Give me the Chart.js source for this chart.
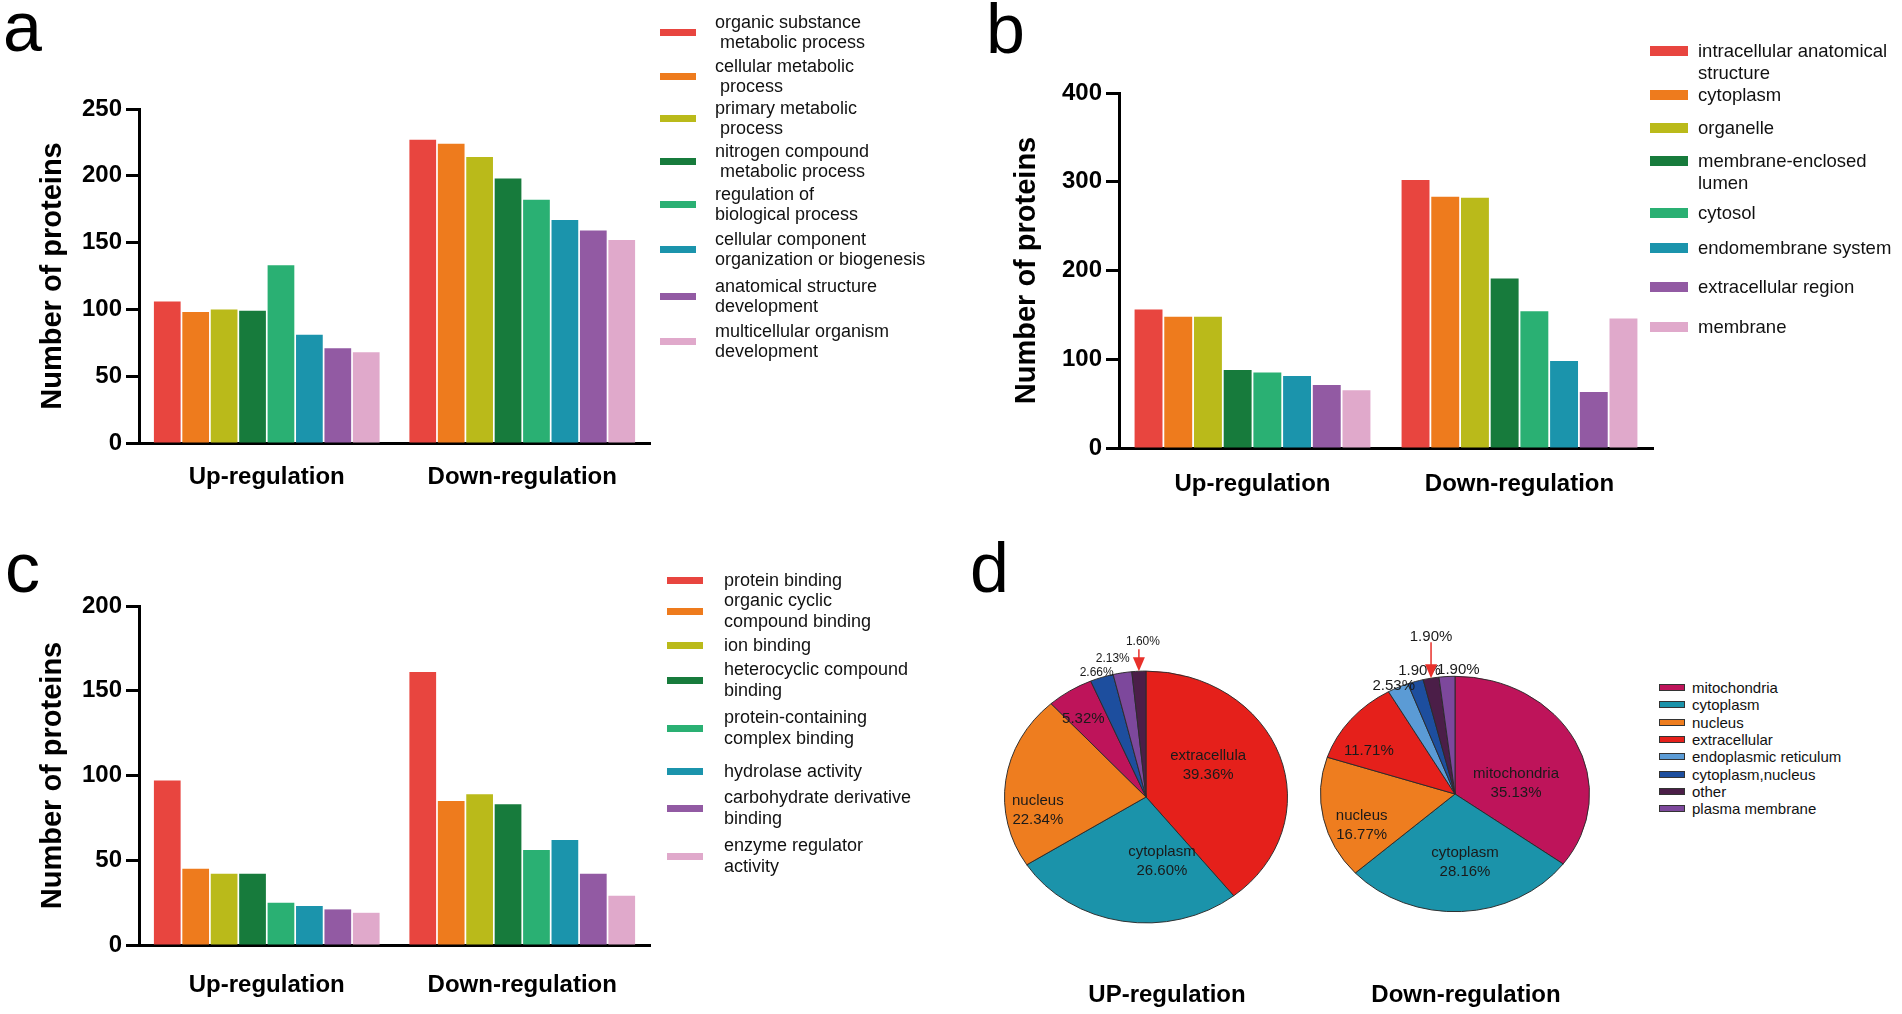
<!DOCTYPE html>
<html>
<head>
<meta charset="utf-8">
<script src="https://cdn.jsdelivr.net/npm/chart.js@4.4.0/dist/chart.umd.min.js"></script>
<style>
  body { margin: 0; background: #fff; width: 1902px; height: 1014px; position: relative; overflow: hidden;
         font-family: Arial, "Liberation Sans", sans-serif; color: #111; }
  canvas { position: absolute; }
  .letter { position: absolute; font-size: 70px; line-height: 70px; color: #000; }
  .ptitle { position: absolute; width: 300px; text-align: center; font-size: 24px; font-weight: bold; color: #000; }
</style>
</head>
<body>
<div class="letter" style="left:3px;top:-8px">a</div>
<div class="letter" style="left:986px;top:-6px">b</div>
<div class="letter" style="left:5px;top:533px">c</div>
<div class="letter" style="left:970px;top:533px">d</div>

<canvas id="bp" width="670" height="450" style="left:0;top:80px"></canvas>
<canvas id="cc" width="700" height="468" style="left:970px;top:60px"></canvas>
<canvas id="mf" width="670" height="444" style="left:0;top:570px"></canvas>
<canvas id="pieUp" width="320" height="416" style="left:985px;top:610px"></canvas>
<canvas id="pieDown" width="330" height="400" style="left:1300px;top:600px"></canvas>

<div class="ptitle" style="left:1017px;top:980px">UP-regulation</div>
<div class="ptitle" style="left:1316px;top:980px">Down-regulation</div>

<script>
// groups on the x axis
var groups = ["Up-regulation", "Down-regulation"];

// a: biological process
var bpTerms = ["organic substance\n metabolic process", "cellular metabolic\n process", "primary metabolic\n process",
  "nitrogen compound\n metabolic process", "regulation of\nbiological process", "cellular component\norganization or biogenesis",
  "anatomical structure\ndevelopment", "multicellular organism\ndevelopment"];
var bpUp = [106, 98, 100, 99, 133, 81, 71, 68];
var bpDown = [227, 224, 214, 198, 182, 167, 159, 152];

// b: cellular component
var ccTerms = ["intracellular anatomical\nstructure", "cytoplasm", "organelle", "membrane-enclosed\nlumen",
  "cytosol", "endomembrane system", "extracellular region", "membrane"];
var ccUp = [156, 148, 148, 88, 85, 81, 71, 65];
var ccDown = [302, 283, 282, 191, 154, 98, 63, 146];

// c: molecular function
var mfTerms = ["protein binding", "organic cyclic\ncompound binding", "ion binding", "heterocyclic compound\nbinding",
  "protein-containing\ncomplex binding", "hydrolase activity", "carbohydrate derivative\nbinding", "enzyme regulator\nactivity"];
var mfUp = [97, 45, 42, 42, 25, 23, 21, 19];
var mfDown = [161, 85, 89, 83, 56, 62, 42, 29];

// y axis ranges
var bpMax = 250, bpStep = 50;
var ccMax = 400, ccStep = 100;
var mfMax = 200, mfStep = 50;

// d: subcellular location (legend order)
var locations = ["mitochondria", "cytoplasm", "nucleus", "extracellular", "endoplasmic reticulum",
  "cytoplasm,nucleus", "other", "plasma membrane"];
var upSlices = ["extracellular", "cytoplasm", "nucleus", "mitochondria", "cytoplasm,nucleus", "plasma membrane", "other"];
var upShare = [39.36, 26.60, 22.34, 5.32, 2.66, 2.13, 1.60];
var upNames = ["extracellula", "cytoplasm", "nucleus", "", "", "", ""];
var downSlices = ["mitochondria", "cytoplasm", "nucleus", "extracellular", "endoplasmic reticulum", "cytoplasm,nucleus", "other", "plasma membrane"];
var downShare = [35.13, 28.16, 16.77, 11.71, 2.53, 1.90, 1.90, 1.90];
var downNames = ["mitochondria", "cytoplasm", "nucleus", "", "", "", "", ""];

// colours
var barColors = ["#E8453F", "#EE7B1D", "#BABA1A", "#177B3C", "#2AB073", "#1B94AC", "#925AA3", "#E0A9CB"];
var locColors = ["#BE145A", "#1B93AA", "#EE7D1F", "#E5201B", "#5B9BD5", "#1D4E9E", "#4B1E48", "#7D489C"];

// hand placement of the pie labels, as offsets (px) from the slice's mid-angle point
var upNudge = [[-18, -7], [30, -10], [-24, 23], [-4, 4], [-2, 4], [-8, -5], [0, 0]];
var downNudge = [[-11, 21], [6, -2], [8, 13], [-6, 14], [0, 6], [7, -2], [0, 0], [12, 2]];

var FONT = 'Arial, "Liberation Sans", sans-serif';
Chart.defaults.font.family = FONT;
Chart.defaults.color = '#000';

function barChart(id, terms, up, down, yMax, yStep, pad, axisW, titlePad, labelPad) {
  var datasets = terms.map(function (t, i) {
    return { label: t, data: [up[i], down[i]], backgroundColor: barColors[i], borderWidth: 0,
             categoryPercentage: 0.89, barPercentage: 0.94 };
  });
  return new Chart(document.getElementById(id), {
    type: 'bar',
    data: { labels: groups, datasets: datasets },
    options: {
      responsive: false, animation: false, devicePixelRatio: 1,
      layout: { padding: pad },
      plugins: { legend: { display: false }, tooltip: { enabled: false } },
      scales: {
        x: {
          grid: { display: false, drawTicks: false },
          border: { display: true, color: '#000', width: 3 },
          ticks: { color: '#000', font: { size: 24, weight: 'bold' }, padding: labelPad, maxRotation: 0 },
          afterFit: function (s) { s.height = 60; }
        },
        y: {
          min: 0, max: yMax,
          ticks: { stepSize: yStep, color: '#000', font: { size: 24, weight: 'bold' }, padding: 4 },
          grid: { drawOnChartArea: false, drawTicks: true, tickLength: 13, tickWidth: 3, tickColor: '#000' },
          border: { display: true, color: '#000', width: 3 },
          title: { display: true, text: 'Number of proteins', color: '#000',
                   font: { size: 29, weight: 'bold' }, padding: { top: titlePad, bottom: 0 } },
          afterFit: function (s) { s.width = axisW; }
        }
      }
    }
  });
}

barChart('bp', bpTerms, bpUp, bpDown, bpMax, bpStep, { top: 29, right: 20, bottom: 27, left: 0 }, 139, 36, 20);
barChart('cc', ccTerms, ccUp, ccDown, ccMax, ccStep, { top: 33, right: 17, bottom: 20, left: 0 }, 149, 40, 22);
barChart('mf', mfTerms, mfUp, mfDown, mfMax, mfStep, { top: 36, right: 20, bottom: 9, left: 0 }, 139, 36, 26);

// the pies in the figure are slightly flattened; squash the arcs, keep the text upright
var pieLabels = {
  id: 'pieLabels',
  beforeDatasetsDraw: function (chart, args, o) {
    var a = chart.getDatasetMeta(0).data[0];
    var ctx = chart.ctx;
    ctx.save();
    ctx.translate(0, a.y * (1 - o.squash));
    ctx.scale(1, o.squash);
  },
  afterDatasetsDraw: function (chart, args, o) {
    var ctx = chart.ctx, meta = chart.getDatasetMeta(0), vals = chart.data.datasets[0].data;
    ctx.restore();
    ctx.save();
    ctx.textAlign = 'center';
    ctx.textBaseline = 'middle';
    meta.data.forEach(function (arc, i) {
      var p = arc.getProps(['x', 'y', 'startAngle', 'endAngle', 'outerRadius'], true);
      var mid = (p.startAngle + p.endAngle) / 2, r = p.outerRadius, k = o.squash;
      var cos = Math.cos(mid), sin = Math.sin(mid);
      var txt = vals[i].toFixed(2) + '%';
      var name = o.names[i], nx = o.nudge[i][0], ny = o.nudge[i][1];
      ctx.fillStyle = '#1a1a1a';
      if (chart.data.labels[i] === 'other') {
        var ax = p.x + cos * r, ay = p.y + sin * r * k;
        ctx.strokeStyle = '#E8302A';
        ctx.fillStyle = '#E8302A';
        ctx.lineWidth = 1.5;
        ctx.beginPath(); ctx.moveTo(ax, ay - o.arrow); ctx.lineTo(ax, ay - 12); ctx.stroke();
        ctx.beginPath(); ctx.moveTo(ax - 6, ay - 14); ctx.lineTo(ax + 6, ay - 14); ctx.lineTo(ax, ay); ctx.closePath(); ctx.fill();
        ctx.fillStyle = '#1a1a1a';
        ctx.font = o.outerFont + 'px ' + FONT;
        ctx.fillText(txt, ax + o.arrowTextDx, ay - o.arrow - o.gap);
      } else if (vals[i] >= 5) {
        var f = vals[i] >= 20 ? 0.6 : 0.77;
        var lx = p.x + cos * r * f + nx, ly = p.y + sin * r * f * k + ny;
        ctx.font = '15px ' + FONT;
        if (name) {
          ctx.fillText(name, lx, ly - 9.5);
          ctx.fillText(txt, lx, ly + 9.5);
        } else {
          ctx.fillText(txt, lx, ly);
        }
      } else {
        var d = r + 10;
        ctx.font = o.outerFont + 'px ' + FONT;
        ctx.fillText(txt, p.x + cos * d + nx, p.y + sin * d * k + ny);
      }
    });
    ctx.restore();
  }
};

function pieChart(id, slices, share, names, nudge, pad, squash, outerFont, arrow, gap, arrowTextDx) {
  return new Chart(document.getElementById(id), {
    type: 'pie',
    data: {
      labels: slices,
      datasets: [{
        data: share,
        backgroundColor: slices.map(function (s) { return locColors[locations.indexOf(s)]; }),
        borderColor: '#2a2a2a', borderWidth: 1
      }]
    },
    options: {
      responsive: false, animation: false, devicePixelRatio: 1,
      layout: { padding: pad },
      plugins: {
        legend: { display: false }, tooltip: { enabled: false },
        pieLabels: { names: names, nudge: nudge, squash: squash, outerFont: outerFont,
                     arrow: arrow, gap: gap, arrowTextDx: arrowTextDx }
      }
    },
    plugins: [pieLabels]
  });
}

pieChart('pieUp', upSlices, upShare, upNames, upNudge, { top: 45, bottom: 87, left: 19, right: 17 }, 0.89, 12, 22, 8, 4);
pieChart('pieDown', downSlices, downShare, downNames, downNudge, { top: 59, bottom: 71, left: 20, right: 40 }, 0.875, 15, 36, 5, 0);

// legends
function legend(terms, colors, centers, swLeft, swW, swH, txLeft, size, lh, firstLine, border) {
  terms.forEach(function (t, i) {
    var lines = t.split('\n');
    var sw = document.createElement('div');
    sw.style.cssText = 'position:absolute;box-sizing:border-box;left:' + swLeft + 'px;top:' + (centers[i] - swH / 2) +
      'px;width:' + swW + 'px;height:' + swH + 'px;background:' + colors[i] + (border ? ';border:1px solid #333' : '');
    document.body.appendChild(sw);
    var tx = document.createElement('div');
    var top = firstLine ? centers[i] - lh / 2 : centers[i] - lines.length * lh / 2;
    tx.style.cssText = 'position:absolute;white-space:pre;left:' + txLeft + 'px;top:' + top +
      'px;font-size:' + size + 'px;line-height:' + lh + 'px;color:#111';
    tx.textContent = t;
    document.body.appendChild(tx);
  });
}

legend(bpTerms, barColors, [32, 76, 118, 161, 204, 249, 296, 341], 660, 36, 7, 715, 18, 20, false, false);
legend(ccTerms, barColors, [51, 95, 128, 161, 213, 248, 287, 327], 1650, 38, 10, 1698, 18.5, 22, true, false);
legend(mfTerms, barColors, [580, 611, 645, 680, 728, 771, 808, 856], 667, 36, 7, 724, 18, 21, false, false);
legend(locations, locColors, [687, 704, 722, 739, 756, 774, 791, 808], 1659, 26, 7, 1692, 15, 17, false, true);
</script>
</body>
</html>
